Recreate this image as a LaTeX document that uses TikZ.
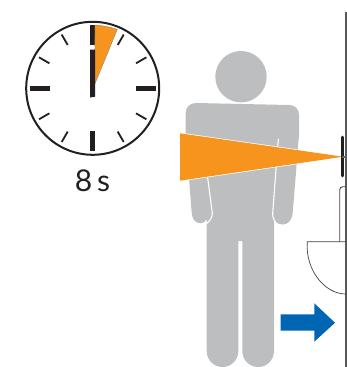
\documentclass[tikz,border=0pt]{standalone}
\usepackage{fontspec}
\usetikzlibrary{calc}
\setmainfont{Lato}
\definecolor{orng}{HTML}{F7941E}
\definecolor{pers}{HTML}{BCBEC0}
\definecolor{blk}{HTML}{231F20}
\definecolor{blu}{HTML}{0066B3}
\definecolor{wallc}{HTML}{58595B}
\tikzset{
  tickmajor/.style={draw=blk,line width=5pt},
  tickminor/.style={draw=blk,line width=1.8pt},
  cutline/.style={draw=white,line width=1.1pt},
  wallline/.style={draw=blk!85,line width=0.9pt}
}
\begin{document}
\begin{tikzpicture}[x=1pt,y=-1pt]
\useasboundingbox (0,0) rectangle (347,367);
% clock
\coordinate (c) at (92.7,88.3);
\draw[blk,line width=2pt] (c) circle (66.5);
\foreach \a in {0,90,180,270}
  \draw[tickmajor] ($(c)+(\a:43)$) -- ($(c)+(\a:63)$);
\foreach \a in {30,60,120,150,210,240,300,330}
  \draw[tickminor] ($(c)+(\a:50)$) -- ($(c)+(\a:62)$);
\fill[orng,draw=blk!60,line width=0.3pt] (94.5,85) -- (95,25) .. controls (103,25.5) and (110,27) .. (117.3,29.3) -- cycle;
\draw[draw=white,line width=0.8pt] (90,47.5) -- (95.2,47.5);
\fill[blk] (90.2,49.5) -- (95,49.5) -- (95,96.7) -- (90.2,97.5) -- cycle;
\node[font=\fontsize{30}{32}\selectfont,text=blk,inner sep=0pt,anchor=base] (label) at (92.5,191.5) {\spaceskip=0.17em 8 s};
% person
\fill[pers] (241,76.7) circle (25.7);
\fill[pers] (185.7,113) .. controls (185.7,107) and (190,103) .. (196,103) -- (289,105)
  .. controls (295,105) and (299,109) .. (299,115) -- (299,135) -- (292.7,213)
  .. controls (292.2,220) and (288,224.5) .. (283,224.5) .. controls (278,224.5) and (275,222) .. (274,219)
  -- (274,351) .. controls (274,360) and (267,367) .. (258.2,367) .. controls (249.4,367) and (242.3,360) .. (242.3,351)
  -- (242.3,241) -- (238.3,241) -- (238.3,351) .. controls (238.3,360) and (231.2,367) .. (222.5,367)
  .. controls (213.8,367) and (206.7,360) .. (206.7,351) -- (206.7,219)
  .. controls (205.5,222) and (203,223.3) .. (201,223.3) .. controls (196,223.3) and (192.2,220) .. (191.7,213)
  -- (185.7,135) -- cycle;
\draw[cutline,line cap=round] (207.7,178) -- (212.3,213) .. controls (212.6,217) and (210,221) .. (206,224);
\draw[cutline,line cap=round] (278.3,139) -- (272.7,213) .. controls (272.4,217) and (274,221) .. (277,224);
% wedge
\fill[orng,draw=white,line width=1.4pt] (180,133.3) -- (343.3,156.7) -- (180,180.7) -- cycle;
\fill[orng] (180,133.3) -- (343.3,156.7) -- (180,180.7) -- cycle;
% wall and sensor
\draw[wallc,line width=2pt] (346,12) -- (346,367);
\draw[blk,line width=2.6pt,line cap=round] (342.3,137) -- (342.3,176);
\fill[blk!70] (342.3,155.5) rectangle (345.6,158);
% door and bowl
\draw[wallline,rounded corners=3pt] (345.6,186.7) -- (339.7,186.7) -- (339.7,241.7);
\draw[wallline,line width=0.7pt] (345.6,241.7) -- (307.3,241.7) .. controls (305,270) and (325,294) .. (345.6,294);
% arrow
\fill[blu] (280.7,314.3) -- (314.3,314.3) -- (314.3,303.3) -- (335,322.7) -- (314.3,341.7) -- (314.3,330.7) -- (280.7,330.7) -- cycle;
\end{tikzpicture}
\end{document}
